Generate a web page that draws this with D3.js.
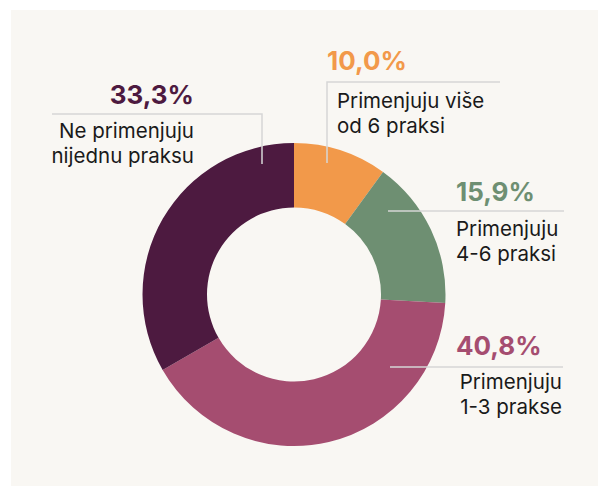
<!DOCTYPE html>
<html>
<head>
<meta charset="utf-8">
<script src="https://cdn.jsdelivr.net/npm/d3@7"></script>
<style>
  html, body { margin: 0; padding: 0; background: #ffffff; }
  svg { display: block; }
  text { font-family: Inter, "Noto Sans", sans-serif; }
</style>
</head>
<body>
<svg id="chart" width="598" height="486"></svg>
<script>
// Share of respondents by number of practices applied (clockwise from 12 o'clock)
const categories = ["Primenjuju više od 6 praksi", "Primenjuju 4-6 praksi", "Primenjuju 1-3 prakse", "Ne primenjuju nijednu praksu"];
const values = [10.0, 15.9, 40.8, 33.3];
const colors = ["#f2994a", "#6e8f72", "#a54d70", "#4d1a40"];
const labelLines = [["Primenjuju više", "od 6 praksi"], ["Primenjuju", "4-6 praksi"], ["Primenjuju", "1-3 prakse"], ["Ne primenjuju", "nijednu praksu"]];

const svg = d3.select("#chart");
svg.append("rect").attr("x", 11).attr("y", 10).attr("width", 587).attr("height", 476).attr("fill", "#f9f7f3");

const cx = 294, cy = 294.5, outerR = 151.5, innerR = 87;
const pie = d3.pie().sort(null).value(d => d)(values);
const arc = d3.arc().innerRadius(innerR).outerRadius(outerR);

const g = svg.append("g").attr("transform", `translate(${cx},${cy})`);
g.selectAll("path").data(pie).join("path")
  .attr("d", arc)
  .attr("fill", (d, i) => colors[i]);

const fmt = v => d3.format(".1f")(v).replace(".", ",") + "%";
const lineColor = "#d6d6d6";

// callout layout for each slice: leader polyline, value label, caption
const callouts = [
  { pts: [[327, 163], [327, 82], [500, 82]], val: [327, 70, "start"], cap: [337, 108, "start"] },
  { pts: [[388, 211], [564, 211]], val: [456, 201, "start"], cap: [456, 236, "start"] },
  { pts: [[390, 367], [563, 367]], val: [456, 355, "start"], cap: [562, 389, "end"] },
  { pts: [[262, 164], [262, 114], [52, 114]], val: [194, 104, "end"], cap: [194, 138, "end"] }
];

const line = d3.line();
callouts.forEach((c, i) => {
  svg.append("path").attr("d", line(c.pts)).attr("fill", "none")
    .attr("stroke", lineColor).attr("stroke-width", 1.5);
  svg.append("text").attr("x", c.val[0]).attr("y", c.val[1]).attr("text-anchor", c.val[2])
    .attr("font-size", 26).attr("font-weight", 700).attr("fill", colors[i])
    .text(fmt(values[i]));
  const t = svg.append("text").attr("text-anchor", c.cap[2])
    .attr("font-size", 20.5).attr("fill", "#1a1a1a");
  labelLines[i].forEach((s, k) => {
    t.append("tspan").attr("x", c.cap[0]).attr("y", c.cap[1] + k * 25).text(s);
  });
});
</script>
</body>
</html>
